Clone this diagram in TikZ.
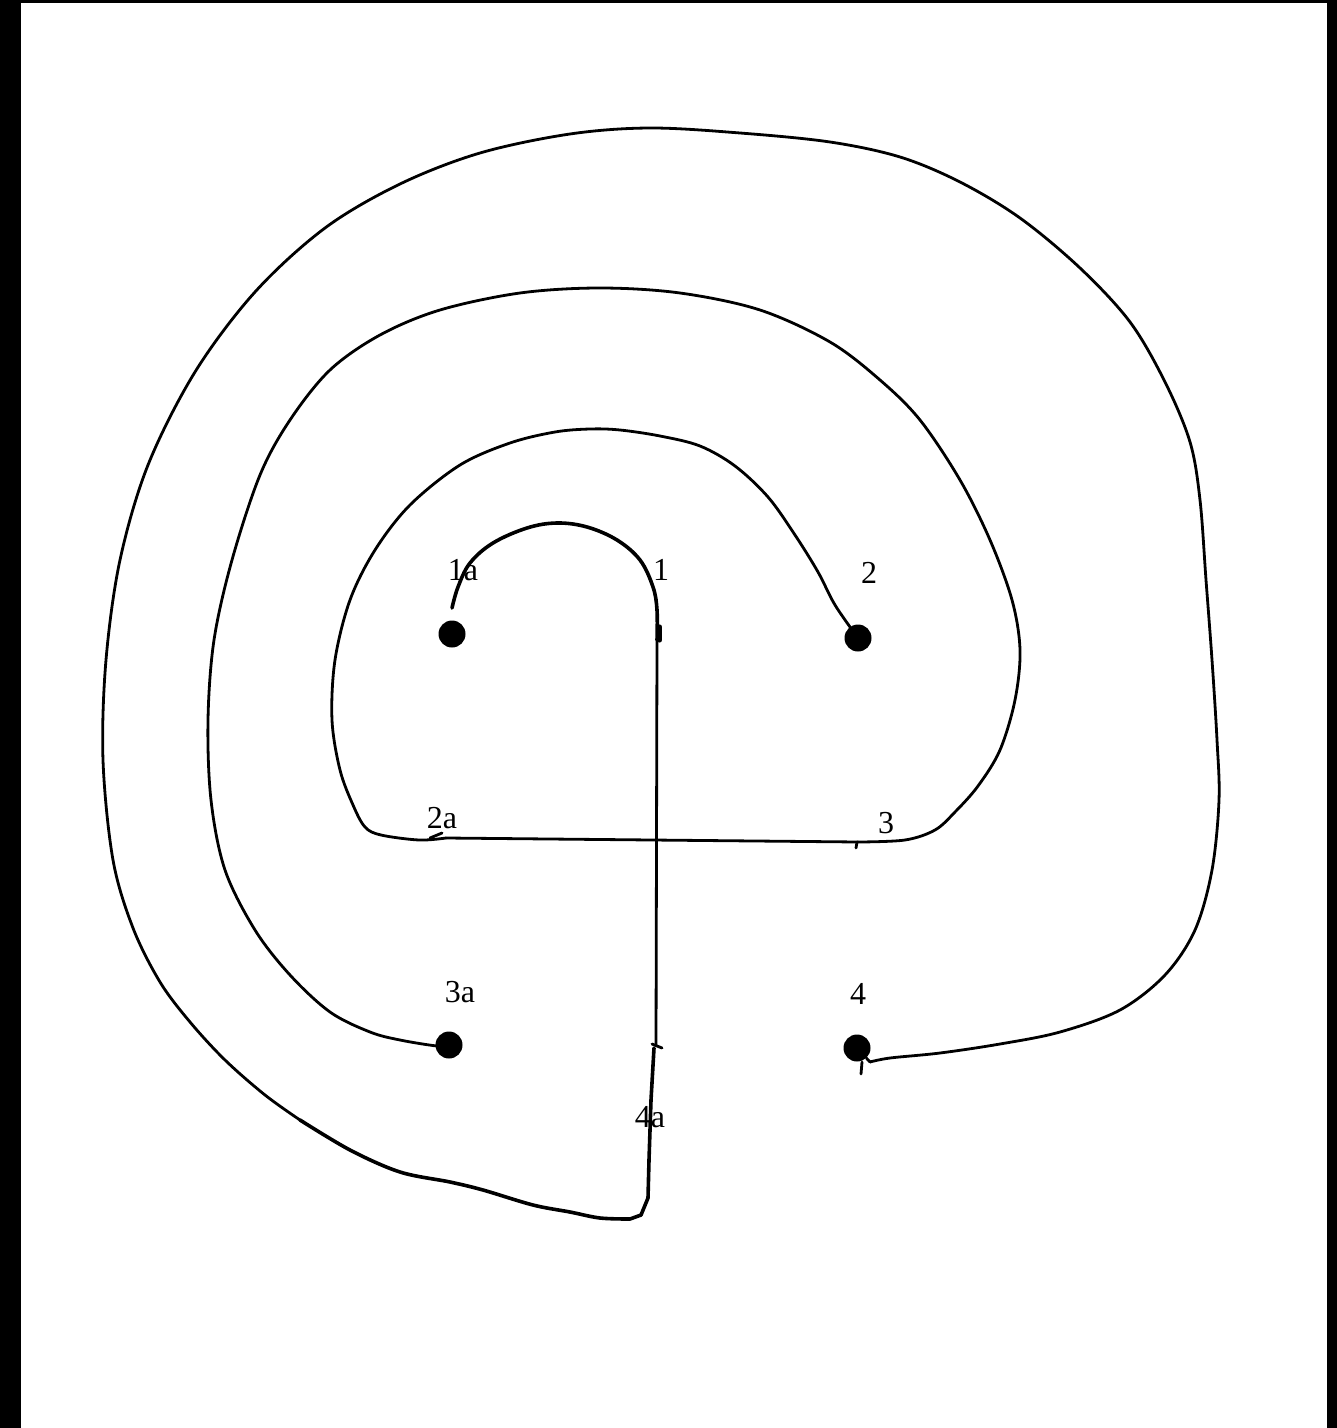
\documentclass[tikz,border=0pt]{standalone}
\usepackage{fontspec}
\setmainfont{Liberation Serif}
\begin{document}
\begin{tikzpicture}[x=0.5pt,y=-0.5pt,
  wire/.style={line width=1.4pt,line cap=round,line join=round},
  thickwire/.style={line width=1.8pt,line cap=round,line join=round},
  dot/.style={circle,fill=black,inner sep=0pt,minimum size=13.5pt},
  lab/.style={font=\fontsize{16}{19}\selectfont,inner sep=0pt}]
\fill[black] (0,0) rectangle (1337,1428);
\fill[white] (21,3) rectangle (1327,1428);
\useasboundingbox (0,0) rectangle (1337,1428);

% terminals
\node[dot] (d1a) at (452,634) {};
\node[dot] (d2) at (858,638) {};
\node[dot] (d3a) at (449,1045) {};
\node[dot] (d4) at (857,1048) {};

% labels
\node[lab] (l1a) at (463,570) {1a};
\node[lab] (l1) at (661,570) {1};
\node[lab] (l2) at (869,573) {2};
\node[lab] (l2a) at (442,818) {2a};
\node[lab] (l3) at (886,823) {3};
\node[lab] (l3a) at (460,992) {3a};
\node[lab] (l4) at (858,994) {4};
\node[lab] (l4a) at (650,1117) {4a};

% junction coordinates
\coordinate (c1a) at (452,608);
\coordinate (v1) at (657,640);
\coordinate (v2) at (656,1045);
\coordinate (c4a) at (654,1048);
\coordinate (c2a) at (446,838);
\coordinate (c3) at (858,842);
\coordinate (c4) at (870,1062);

% inner hook 1a -> 1 and the vertical line
\draw[thickwire] plot[smooth,tension=0.6] coordinates {(c1a) (458,587) (470,563) (493,543) (527,528) (557,523) (587,527) (617,540) (640,560) (653,587) (657,610) (v1)};
\draw[line width=2.6pt,line cap=round] (659.5,627) -- (659.5,640);
\draw[wire] (v1) -- (v2);
\draw[wire] (652,1044) -- (662,1048);

% lower part of the vertical and the outer loop to 4
\draw[thickwire] (c4a) -- (651,1100) -- (649,1160) -- (648,1198) -- (641,1215) -- (630,1219)
  -- plot[smooth,tension=0.55] coordinates {(630,1219) (600,1218) (570,1212) (533,1205) (483,1190) (450,1182) (400,1172) (350,1150) (300,1120)};
\draw[wire] plot[smooth,tension=0.55] coordinates {(300,1120) (265,1095) (225,1060) (190,1022) (160,982) (133,928) (113,860) (103,760) (106,660) (120,560) (148,465) (195,372) (255,292) (325,228) (400,184) (480,153) (570,134) (650,128) (740,133) (830,142) (900,157) (960,182) (1020,218) (1080,268) (1130,322) (1165,382) (1190,442) (1200,500) (1206,580) (1212,660) (1217,740) (1219,800) (1212,870) (1195,930) (1165,975) (1120,1010) (1060,1032) (1000,1044) (940,1053) (890,1058) (c4)};
\draw[wire] (c4) -- (d4);
\draw[wire] (862,1062) -- (861,1074);

% inner loop 2 -> 2a
\draw[wire] plot[smooth,tension=0.55] coordinates {(d2) (835,605) (818,572) (795,535) (768,497) (735,466) (700,446) (660,436) (620,430) (590,429) (555,432) (510,443) (460,465) (410,505) (375,550) (350,600) (335,660) (332,720) (340,770) (353,805) (365,827) (381,835) (419,840) (c2a)};
\draw[wire] (430,838) -- (442,833);

% horizontal line 2a -> 3
\draw[wire] (c2a) -- (c3);
\draw[wire] (857,842) -- (856,848);

% middle loop 3 -> 3a
\draw[wire] plot[smooth,tension=0.55] coordinates {(c3) (905,840) (935,830) (955,812) (978,786) (1000,750) (1015,700) (1020,650) (1012,600) (990,540) (960,480) (920,420) (880,380) (830,342) (760,310) (680,293) (600,288) (520,293) (440,310) (380,335) (330,370) (290,420) (260,475) (232,560) (214,640) (208,720) (211,800) (225,870) (255,930) (290,975) (330,1012) (370,1032) (400,1040) (437,1046) (d3a)};
\end{tikzpicture}
\end{document}
